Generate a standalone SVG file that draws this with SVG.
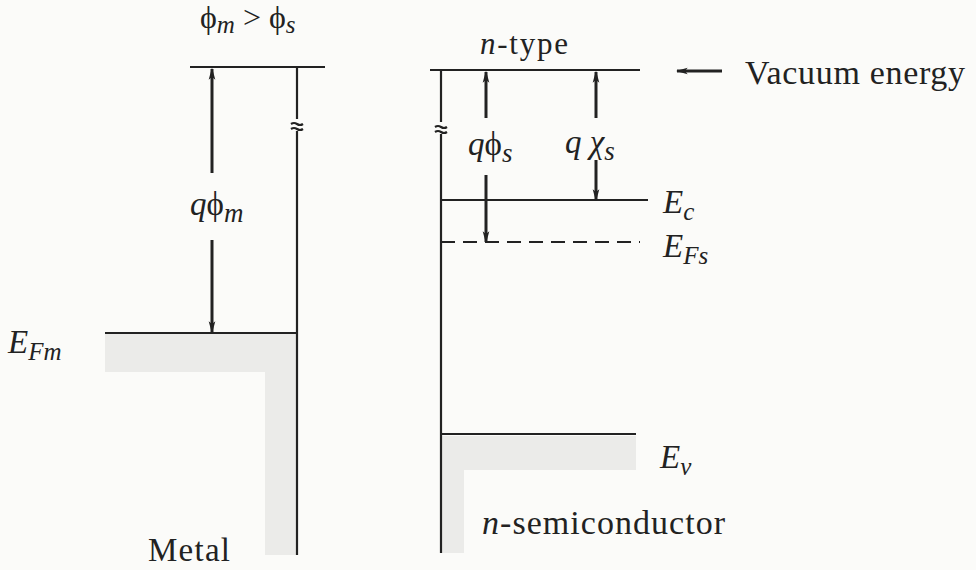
<svg xmlns="http://www.w3.org/2000/svg" width="976" height="570" viewBox="0 0 976 570">
<defs>
<marker id="ah" markerWidth="12" markerHeight="18" refX="16" refY="5" orient="auto" markerUnits="userSpaceOnUse" viewBox="0 0 18 10">
<path d="M0,0 L18,5 L0,10 L4,5 Z" fill="#222"/>
</marker>
<style>
.ln{stroke:#222;stroke-width:2.2;fill:none}
.ar{stroke:#222;stroke-width:3;fill:none}
.sh{fill:#ebebe9}
text{font-family:"Liberation Serif","DejaVu Serif",serif;fill:#222}
.i{font-style:italic}
</style>
</defs>
<rect width="976" height="570" fill="#fbfbf9"/>
<g id="metal">
<rect class="sh" x="105" y="334" width="192" height="38"/>
<rect class="sh" x="265" y="372" width="32" height="183"/>
<line class="ln" x1="190" y1="67" x2="325" y2="67"/>
<line class="ln" x1="297" y1="67" x2="297" y2="119"/>
<line class="ln" x1="297" y1="131" x2="297" y2="555"/>
<path class="ln" d="M291,124 q3,-2 6,0 t6,0 M291,129 q3,-2 6,0 t6,0" stroke-width="1.6"/>
<line class="ln" x1="105" y1="333" x2="297" y2="333"/>
<text x="148" y="561" font-size="33" textLength="82">Metal</text>
<text class="i" x="8" y="353" font-size="33">E<tspan font-size="25" dy="7">Fm</tspan></text>
</g>
<g id="semiconductor">
<rect class="sh" x="441" y="436" width="195" height="34"/>
<rect class="sh" x="441" y="470" width="23" height="83"/>
<line class="ln" x1="430" y1="70" x2="640" y2="70"/>
<line class="ln" x1="441" y1="70" x2="441" y2="122"/>
<line class="ln" x1="441" y1="134" x2="441" y2="553"/>
<path class="ln" d="M435,127 q3,-2 6,0 t6,0 M435,132 q3,-2 6,0 t6,0" stroke-width="1.6"/>
<line class="ln" x1="441" y1="200" x2="648" y2="200"/>
<line class="ln" x1="441" y1="242" x2="640" y2="242" stroke-dasharray="14,8"/>
<line class="ln" x1="441" y1="434" x2="636" y2="434"/>
<text x="480" y="54" font-size="31" textLength="88"><tspan class="i">n</tspan>-type</text>
<text class="i" x="663" y="213" font-size="33">E<tspan font-size="25" dy="7">c</tspan></text>
<text class="i" x="663" y="257" font-size="33">E<tspan font-size="25" dy="7">Fs</tspan></text>
<text class="i" x="660" y="468" font-size="33">E<tspan font-size="25" dy="7">v</tspan></text>
<text x="482" y="534" font-size="34" textLength="243"><tspan class="i">n</tspan>-semiconductor</text>
</g>
<g id="connectors">
<line class="ar" x1="212" y1="173" x2="212" y2="69" marker-end="url(#ah)"/>
<line class="ar" x1="212" y1="240" x2="212" y2="332" marker-end="url(#ah)"/>
<line class="ar" x1="486" y1="118" x2="486" y2="72" marker-end="url(#ah)"/>
<line class="ar" x1="486" y1="175" x2="486" y2="242" marker-end="url(#ah)"/>
<line class="ar" x1="596" y1="118" x2="596" y2="72" marker-end="url(#ah)"/>
<line class="ar" x1="596" y1="160" x2="596" y2="200" marker-end="url(#ah)"/>
<line class="ar" x1="722" y1="71" x2="677" y2="71" marker-end="url(#ah)"/>
</g>
<g id="labels">
<text x="200" y="28" font-size="32">ϕ<tspan class="i" font-size="25" dy="5">m</tspan><tspan dy="-5"> &gt; ϕ</tspan><tspan class="i" font-size="25" dy="5">s</tspan></text>
<text x="190" y="215" font-size="33"><tspan class="i">q</tspan>ϕ<tspan class="i" font-size="27" dy="7">m</tspan></text>
<text x="468" y="155" font-size="33"><tspan class="i">q</tspan>ϕ<tspan class="i" font-size="27" dy="7">s</tspan></text>
<text x="565" y="153" font-size="33"><tspan class="i">q χ</tspan><tspan class="i" font-size="27" dy="7">s</tspan></text>
<text x="745" y="84" font-size="34" textLength="220">Vacuum energy</text>
</g>
</svg>
